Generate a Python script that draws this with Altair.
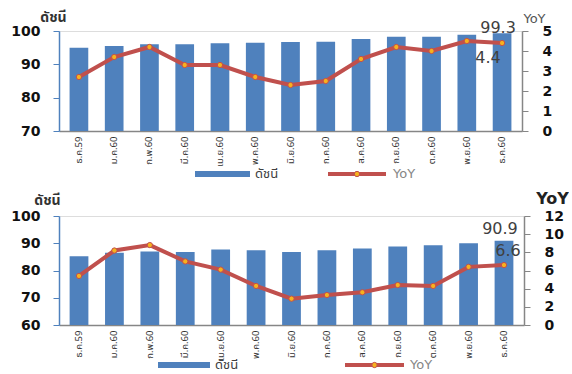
import altair as alt
import pandas as pd

# Month labels (Thai abbreviations)
months = ["ธ.ค.59", "ม.ค.60", "ก.พ.60", "มี.ค.60", "เม.ย.60", "พ.ค.60", "มิ.ย.60",
          "ก.ค.60", "ส.ค.60", "ก.ย.60", "ต.ค.60", "พ.ย.60", "ธ.ค.60"]

# Upper panel: index and YoY change
index_a = [95.0, 95.5, 96.0, 96.0, 96.3, 96.5, 96.7, 96.8, 97.6, 98.3, 98.3, 98.9, 99.3]
yoy_a = [2.7, 3.7, 4.2, 3.3, 3.3, 2.7, 2.3, 2.5, 3.6, 4.2, 4.0, 4.5, 4.4]

# Lower panel: index and YoY change
index_b = [85.2, 86.5, 87.0, 86.8, 87.7, 87.4, 86.8, 87.4, 88.1, 88.8, 89.3, 90.0, 90.9]
yoy_b = [5.4, 8.2, 8.8, 7.0, 6.1, 4.3, 2.9, 3.3, 3.6, 4.4, 4.3, 6.4, 6.6]

BLUE = "#4f81bd"
RED = "#c0504d"
DOT = "#f7b21d"
GREY = "#868686"
TXT = "#404040"
THAI = "Noto Sans Thai, Noto Sans, DejaVu Sans, sans-serif"
NUM = "DejaVu Sans"


def panel(idx, yoy, left_dom, left_vals, right_dom, right_vals, w, h, cfg):
    df = pd.DataFrame({"m": months, "idx": idx, "yoy": yoy})
    last = df.tail(1)
    x = alt.X("m:N", sort=months, title=None,
              scale=alt.Scale(paddingInner=0.47, paddingOuter=0.3),
              axis=alt.Axis(labelAngle=270, labelFont=THAI, labelFontSize=9.5,
                            labelColor="#333333", ticks=False, domainColor=GREY,
                            domainWidth=1.5, labelPadding=5, labelAlign="right",
                            labelBaseline="middle", labelOverlap=False))
    yl = alt.Y("idx:Q", title="ดัชนี",
               scale=alt.Scale(domain=left_dom, zero=False, nice=False),
               axis=alt.Axis(values=left_vals, grid=False, orient="left",
                             labelOverlap=False,
                             domainColor=BLUE, domainWidth=1.5, tickColor=BLUE,
                             tickSize=6, labelFont=NUM, labelFontWeight="bold",
                             labelFontSize=14, labelColor="#111111", labelPadding=13,
                             titleAngle=0, titleFont=THAI, titleFontSize=14,
                             titleFontWeight="bold", titleColor="#333333",
                             titleAlign="center", titleBaseline="middle",
                             titleX=cfg["ltx"], titleY=cfg["lty"]))
    yr = alt.Y("yoy:Q", title="YoY",
               scale=alt.Scale(domain=right_dom, nice=False),
               axis=alt.Axis(values=right_vals, grid=False, orient="right",
                             labelOverlap=False,
                             domainColor=GREY, domainWidth=1.5, tickColor=GREY,
                             tickSize=6, labelFont=NUM, labelFontWeight="bold",
                             labelFontSize=14, labelColor="#111111", labelPadding=14,
                             titleAngle=0, titleFont=NUM, titleFontSize=cfg["rtsize"],
                             titleFontWeight=cfg["rtweight"], titleColor=cfg["rtcolor"],
                             titleAlign="center", titleBaseline="middle",
                             titleX=cfg["rtx"], titleY=cfg["rty"]))
    xm = alt.X("m:N", sort=months)

    bars = alt.Chart(df).mark_bar(color=BLUE, clip=True).encode(x=x, y=yl)
    bar_lbl = alt.Chart(last).mark_text(
        font=NUM, fontSize=16, color=TXT, baseline="alphabetic", dx=-4, dy=cfg["bdy"]
    ).encode(x=xm, y=yl, text=alt.Text("idx:Q", format=".1f"))

    line = alt.Chart(df).mark_line(
        color=RED, strokeWidth=4,
        point=alt.OverlayMarkDef(filled=True, fill=DOT, stroke=RED, strokeWidth=1, size=28),
    ).encode(x=xm, y=yr)
    yoy_lbl = alt.Chart(last).mark_text(
        font=NUM, fontSize=16, color=TXT, baseline="middle", dx=cfg["ydx"], dy=cfg["ydy"]
    ).encode(x=xm, y=yr, text=alt.Text("yoy:Q", format=".1f"))

    # legend: bar swatch + line with dot
    lg = cfg["lg"]
    key = pd.DataFrame({"k": ["ดัชนี"]})
    sw = alt.Chart(key).mark_rect(color=BLUE).encode(
        x=alt.value(lg["rx"]), x2=alt.value(lg["rx2"]),
        y=alt.value(lg["y"] - 3), y2=alt.value(lg["y"] + 3))
    sw_t = alt.Chart(key).mark_text(font=THAI, fontSize=13, color=TXT, align="left",
                                    baseline="middle").encode(
        x=alt.value(lg["rt"]), y=alt.value(lg["y"]), text="k:N")
    key2 = pd.DataFrame({"k": ["YoY"]})
    ln = alt.Chart(key2).mark_rule(color=RED, strokeWidth=4).encode(
        x=alt.value(lg["lx"]), x2=alt.value(lg["lx2"]), y=alt.value(lg["y"]))
    dot = alt.Chart(key2).mark_point(filled=True, fill=DOT, stroke=RED, strokeWidth=1,
                                     size=28, opacity=1).encode(
        x=alt.value((lg["lx"] + lg["lx2"]) / 2), y=alt.value(lg["y"]))
    ln_t = alt.Chart(key2).mark_text(font=NUM, fontSize=13, color=GREY, align="left",
                                     baseline="middle").encode(
        x=alt.value(lg["lt"]), y=alt.value(lg["y"]), text="k:N")

    left = alt.layer(bars, bar_lbl)
    right = alt.layer(line, yoy_lbl)
    return alt.layer(left, right, sw, sw_t, ln, dot, ln_t).resolve_scale(y="independent").properties(
        width=w, height=h)


top = panel(index_a, yoy_a, [70, 100], [70, 80, 90, 100], [0, 5], [0, 1, 2, 3, 4, 5],
            463, 100,
            dict(ltx=-6, lty=-14, rtsize=13, rtweight="normal", rtcolor="#555555",
                 rtx=12, rty=-13, bdy=0, ydx=-14, ydy=15,
                 lg=dict(rx=136, rx2=191, rt=196, lx=269, lx2=327, lt=334, y=143)))

bottom = panel(index_b, yoy_b, [60, 100], [60, 70, 80, 90, 100], [0, 12], list(range(0, 13, 2)),
               465, 109,
               dict(ltx=-12, lty=-16, rtsize=16, rtweight="bold", rtcolor="#222222",
                    rtx=28, rty=-18, bdy=-7, ydx=4, ydy=-14,
                    lg=dict(rx=99, rx2=151, rt=156, lx=286, lx2=345, lt=351, y=149)))

chart = alt.vconcat(top, bottom, spacing=85, bounds="flush").properties(
    padding={"left": 10, "top": 9, "right": 0, "bottom": 14},
).configure_view(stroke=None).configure(background="white")

chart.save("out.html", embed_options={"renderer": "svg", "actions": False})
